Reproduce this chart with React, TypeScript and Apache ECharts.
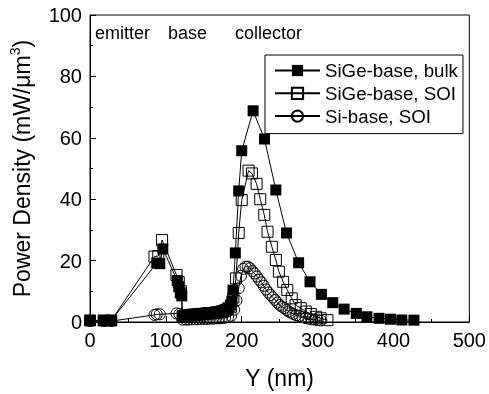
import React, { useEffect, useRef } from "react";
import * as echarts from "echarts";

const FONT = "'Liberation Sans', Arial, Helvetica, sans-serif";

const seriesNames = ["SiGe-base, bulk", "SiGe-base, SOI", "Si-base, SOI"];
const regionLabels = ["emitter", "base", "collector"];
const xTicks = [0, 100, 200, 300, 400, 500];
const yTicks = [0, 20, 40, 60, 80, 100];

const bulk: number[][] = [
  [0, 0.5], [18, 0.5], [28, 0.5], [88, 19.2], [92, 19], [96, 23.8],
  [115, 13.5], [117, 11.5], [119, 9.5], [121, 8.5],
  [122, 2.0], [125, 2.2], [128, 2.3], [131, 2.4], [134, 2.5], [137, 2.6], [140, 2.6],
  [143, 2.7], [146, 2.8], [149, 2.8], [152, 2.9], [155, 3.0], [158, 3.0], [161, 3.1],
  [164, 3.2], [167, 3.3], [170, 3.4], [173, 3.6], [176, 3.8], [179, 4.1], [182, 4.6],
  [185, 5.5], [187, 6.8], [188.5, 10.4], [191.6, 22.5], [196, 42.7], [200, 55.8],
  [215, 68.8], [230, 59.6], [245, 43], [259, 29], [275, 19.3], [290, 13.1], [305, 9],
  [320, 6.3], [335, 4.2], [351, 2.8], [365, 1.7], [381, 1.2], [396, 0.9], [411, 0.65], [427, 0.6],
];

const sigeSoi: number[][] = [
  [0, 0.5], [18, 0.5], [28, 0.5], [85, 21.3], [90, 21.5], [95, 26.7],
  [114, 15.3], [117, 13], [120, 10],
  [122, 1.8], [126, 2.0], [130, 2.1], [134, 2.2], [138, 2.3], [142, 2.4], [146, 2.5],
  [150, 2.6], [154, 2.7], [158, 2.8], [162, 2.9], [166, 3.0], [170, 3.2], [174, 3.4],
  [178, 3.7], [182, 4.2], [186, 5.0], [189, 8], [192.5, 14.2], [196, 29], [200, 39.7],
  [209, 49.3], [213.5, 48.4], [219.6, 45], [224.4, 40], [229.7, 34.9], [234, 29.4],
  [239.7, 24.5], [245, 20.2], [249, 16.4], [254.6, 13.1], [260, 10.4], [266, 7.7],
  [271, 5.5], [277.8, 4.5], [284.4, 3.4], [291, 2.6], [298, 1.7], [304, 1.2], [313, 0.6],
];

const siSoi: number[][] = [
  [0, 0.3], [18, 0.3], [28, 0.3], [85, 2.3], [88, 2.5], [92, 2.5],
  [114, 2.8], [118, 2.6], [122, 0.8], [126, 0.8], [130, 0.8], [134, 0.9], [138, 0.9],
  [142, 0.9], [146, 1.0], [150, 1.0], [154, 1.0], [158, 1.1], [162, 1.1], [166, 1.2],
  [170, 1.2], [174, 1.3], [178, 1.4], [182, 1.6], [186, 2], [190, 4], [193, 7], [196, 11],
  [199, 15], [202, 17.3], [205, 18], [208, 18], [211, 17.5], [214, 16.6], [217, 15.8],
  [220, 14.8], [223, 13.8], [226, 12.9], [229, 11.8], [232, 10.6], [235, 9.6], [238, 8.8],
  [241, 8], [244, 7.2], [247, 6.3], [250, 5.5], [253, 5], [256, 4.5], [259, 3.9],
  [262, 3.4], [265, 3], [268, 2.6], [272, 2.2], [276, 2], [280, 1.6], [284, 1.3],
  [288, 1.1], [292, 0.9], [296, 0.8], [300, 0.6], [304, 0.5],
];

export default function App() {
  const ref = useRef<HTMLDivElement>(null);
  useEffect(() => {
    if (!ref.current) return;
    const chart = echarts.init(ref.current, null, { renderer: "svg" });
    const axisCommon = {
      axisLine: { show: true, lineStyle: { color: "#000", width: 1 } },
      axisTick: { show: true, inside: true, length: 6, lineStyle: { color: "#000" } },
      minorTick: { show: true, splitNumber: 2, length: 3, lineStyle: { color: "#000" } },
      splitLine: { show: false },
      axisLabel: { color: "#000", fontSize: 20, fontFamily: FONT },
      nameTextStyle: { color: "#000", fontSize: 23, fontFamily: FONT },
    };
    const mkSeries = (name: string, data: number[][], symbol: string, filled: boolean, z: number) => ({
      name,
      type: "line",
      data,
      symbol,
      symbolSize: 11,
      z,
      lineStyle: { color: "#000", width: 1 },
      itemStyle: filled
        ? { color: "#000", borderColor: "#000", borderWidth: 0 }
        : { color: "rgba(0,0,0,0)", borderColor: "#000", borderWidth: 1 },
      emphasis: { disabled: true },
    });
    const labelStyle = { fontSize: 18, fontFamily: FONT, fill: "#000" };
    chart.setOption({
      animation: false,
      textStyle: { fontFamily: FONT, color: "#000" },
      grid: { left: 90, right: 18, top: 15, bottom: 72, show: true, borderColor: "#000", borderWidth: 1, backgroundColor: "transparent" },
      xAxis: {
        type: "value",
        min: xTicks[0],
        max: xTicks[xTicks.length - 1],
        interval: 100,
        name: "Y (nm)",
        nameLocation: "middle",
        nameGap: 44,
        ...axisCommon,
        axisLabel: { ...axisCommon.axisLabel, margin: 8 },
      },
      yAxis: {
        type: "value",
        min: yTicks[0],
        max: yTicks[yTicks.length - 1],
        interval: 20,
        name: "Power Density (mW/μm{sup|3})",
        nameLocation: "middle",
        nameGap: 54,
        ...axisCommon,
        nameTextStyle: {
          ...axisCommon.nameTextStyle,
          rich: { sup: { fontSize: 14, fontFamily: FONT, color: "#000", padding: [0, 0, 14, 0] } },
        },
        axisLabel: { ...axisCommon.axisLabel, margin: 8 },
      },
      legend: {
        orient: "vertical",
        left: 265,
        top: 55,
        data: seriesNames,
        borderColor: "#000",
        borderWidth: 1,
        borderRadius: 0,
        padding: [6, 5, 8, 9],
        itemWidth: 45,
        itemHeight: 14,
        itemGap: 3.8,
        textStyle: { fontSize: 18.7, fontFamily: FONT, color: "#000" },
      },
      graphic: [
        { type: "text", left: 95, top: 24, style: { text: regionLabels[0], ...labelStyle } },
        { type: "text", left: 168, top: 24, style: { text: regionLabels[1], ...labelStyle } },
        { type: "text", left: 235, top: 24, style: { text: regionLabels[2], ...labelStyle } },
      ],
      series: [
        mkSeries(seriesNames[2], siSoi, "circle", false, 2),
        mkSeries(seriesNames[1], sigeSoi, "rect", false, 3),
        mkSeries(seriesNames[0], bulk, "rect", true, 4),
      ],
    });
    return () => chart.dispose();
  }, []);
  return <div ref={ref} style={{ position: "fixed", left: 0, top: 0, width: 489, height: 394 }} />;
}
